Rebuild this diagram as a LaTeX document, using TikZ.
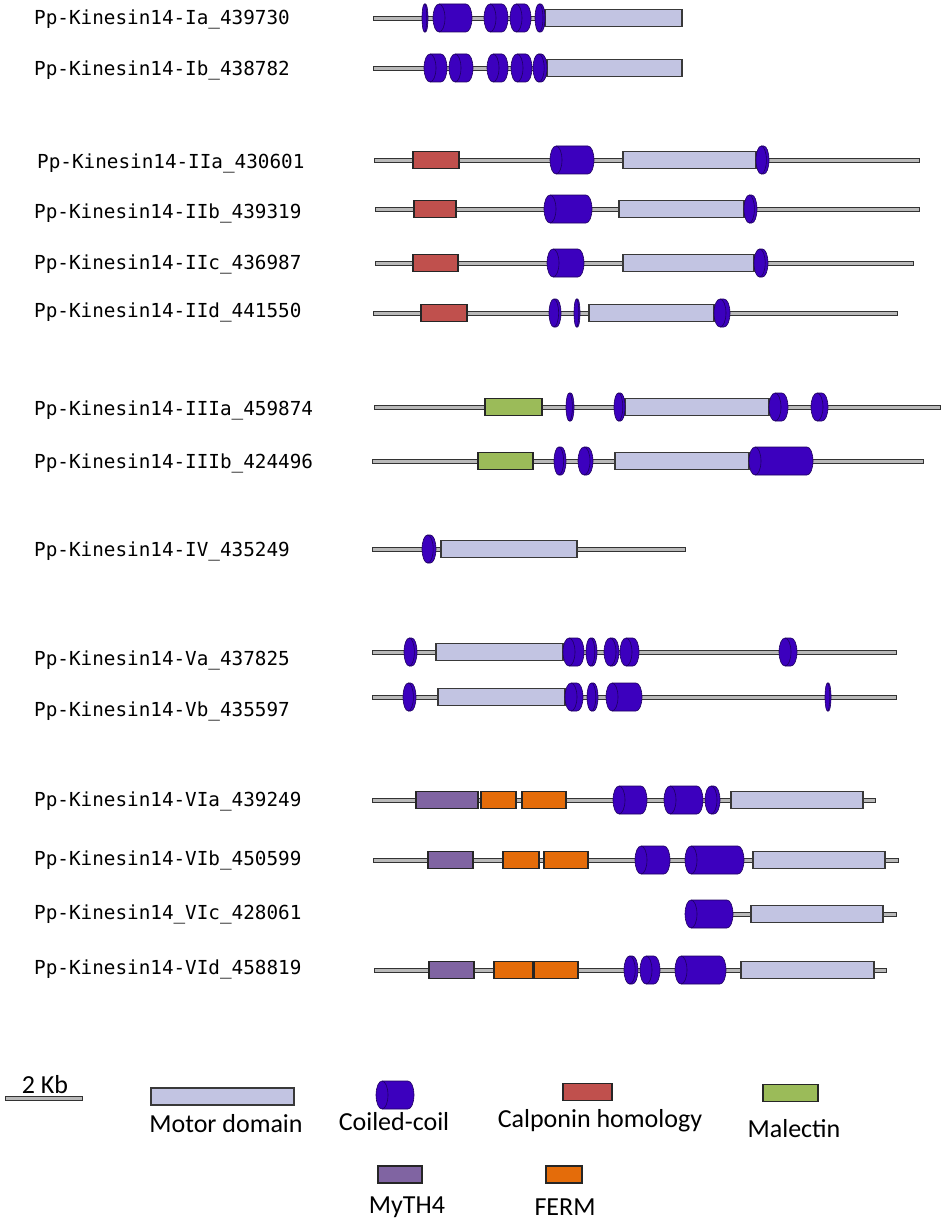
\documentclass[tikz,border=0pt]{standalone}
\usepackage{fontspec}
\setmainfont{Carlito}
\newfontfamily\labfont{DejaVu Sans Mono}
\usepackage{tikz}
\usetikzlibrary{calc}

\definecolor{motorc}{RGB}{194,196,226}
\definecolor{coilc}{RGB}{60,0,190}
\definecolor{calc}{RGB}{192,80,77}
\definecolor{malc}{RGB}{155,187,89}
\definecolor{mythc}{RGB}{128,100,162}
\definecolor{fermc}{RGB}{228,108,10}

\newcommand{\rod}[3]{\draw[rod] (#1,-#3+2) rectangle (#2,-#3-2);}
\newcommand{\dom}[4]{\draw[#4] (#1,-#3+8.5) rectangle (#2,-#3-8.5);}
\newcommand{\cc}[3]{%
  \pgfmathsetmacro{\ccr}{min(6,(#2-#1)/2.5)}%
  \draw[coil] ({#1+\ccr},-#3+14) -- ({#2-\ccr},-#3+14)
    arc[start angle=90,end angle=-90,x radius=\ccr pt,y radius=14pt]
    -- ({#1+\ccr},-#3-14)
    arc[start angle=270,end angle=90,x radius=\ccr pt,y radius=14pt] -- cycle;
  \draw[coil line] ({#1+\ccr},-#3+14)
    arc[start angle=90,end angle=-90,x radius=\ccr pt,y radius=14pt];}

\begin{document}
\begin{tikzpicture}[x=1pt,y=1pt,
  rod/.style={fill=gray!55, draw=gray!40!black, line width=0.9pt},
  motor/.style={fill=motorc, draw=gray!45!black, line width=1.1pt},
  calp/.style={fill=calc, draw=gray!30!black, line width=1.1pt},
  male/.style={fill=malc, draw=gray!30!black, line width=1.1pt},
  myth/.style={fill=mythc, draw=gray!30!black, line width=1.1pt},
  ferm/.style={fill=fermc, draw=gray!30!black, line width=1.1pt},
  coil/.style={fill=coilc, draw=coilc!50!black, line width=0.6pt},
  coil line/.style={draw=coilc!50!black, line width=0.6pt},
  lab/.style={anchor=west, font=\labfont\fontsize{19.3}{22}\selectfont, inner sep=0pt},
  leg/.style={font=\fontsize{26}{30}\selectfont, inner sep=0pt}]
\useasboundingbox (0,0) rectangle (945,-1225);

\node[lab] (Ia) at (34,-19) {Pp-Kinesin14-Ia\_439730};
\node[lab] (Ib) at (34,-70) {Pp-Kinesin14-Ib\_438782};
\node[lab] (IIa) at (37,-163) {Pp-Kinesin14-IIa\_430601};
\node[lab] (IIb) at (34,-213) {Pp-Kinesin14-IIb\_439319};
\node[lab] (IIc) at (34,-264) {Pp-Kinesin14-IIc\_436987};
\node[lab] (IId) at (34,-312) {Pp-Kinesin14-IId\_441550};
\node[lab] (IIIa) at (34,-410) {Pp-Kinesin14-IIIa\_459874};
\node[lab] (IIIb) at (34,-463) {Pp-Kinesin14-IIIb\_424496};
\node[lab] (IV) at (34,-551) {Pp-Kinesin14-IV\_435249};
\node[lab] (Va) at (34,-660) {Pp-Kinesin14-Va\_437825};
\node[lab] (Vb) at (34,-711) {Pp-Kinesin14-Vb\_435597};
\node[lab] (VIa) at (34,-801) {Pp-Kinesin14-VIa\_439249};
\node[lab] (VIb) at (34,-860) {Pp-Kinesin14-VIb\_450599};
\node[lab] (VIc) at (34,-914) {Pp-Kinesin14\_VIc\_428061};
\node[lab] (VId) at (34,-969) {Pp-Kinesin14-VId\_458819};

% Ia
\rod{373}{680}{18}
\dom{545}{682}{18}{motor}
\cc{422}{428}{18} \cc{433}{472}{18} \cc{484}{508}{18} \cc{510}{531}{18} \cc{535}{545}{18}
% Ib
\rod{373}{680}{68}
\dom{547}{682}{68}{motor}
\cc{424}{447}{68} \cc{449}{473}{68} \cc{487}{508}{68} \cc{511}{532}{68} \cc{533}{547}{68}

% IIa
\rod{374}{919}{160}
\dom{413}{459}{160}{calp}
\dom{623}{756}{160}{motor}
\cc{550}{594}{160} \cc{756}{769}{160}
% IIb
\rod{375}{919}{209}
\dom{414}{456}{209}{calp}
\dom{619}{744}{209}{motor}
\cc{544}{592}{209} \cc{744}{757}{209}
% IIc
\rod{375}{913}{263}
\dom{413}{458}{263}{calp}
\dom{623}{754}{263}{motor}
\cc{547}{584}{263} \cc{754}{768}{263}
% IId
\rod{373}{897}{313}
\dom{421}{467}{313}{calp}
\dom{589}{714}{313}{motor}
\cc{549}{561}{313} \cc{574}{580}{313} \cc{714}{730}{313}

% IIIa
\rod{374}{940}{407}
\dom{485}{542}{407}{male}
\dom{625}{769}{407}{motor}
\cc{566}{574}{407} \cc{614}{625}{407} \cc{769}{788}{407} \cc{811}{828}{407}
% IIIb
\rod{372}{923}{461}
\dom{478}{533}{461}{male}
\dom{615}{749}{461}{motor}
\cc{554}{566}{461} \cc{578}{593}{461} \cc{749}{813}{461}

% IV
\rod{372}{685}{549}
\dom{441}{577}{549}{motor}
\cc{422}{436}{549}

% Va
\rod{372}{896}{652}
\dom{436}{563}{652}{motor}
\cc{404}{417}{652} \cc{563}{584}{652} \cc{586}{597}{652} \cc{604}{619}{652}
\cc{620}{639}{652} \cc{779}{797}{652}
% Vb
\rod{372}{896}{697}
\dom{438}{565}{697}{motor}
\cc{403}{416}{697} \cc{565}{583}{697} \cc{587}{598}{697} \cc{606}{642}{697}
\cc{825}{831}{697}

% VIa
\rod{372}{875}{800}
\dom{416}{478}{800}{myth}
\dom{481}{516}{800}{ferm} \dom{522}{566}{800}{ferm}
\dom{731}{863}{800}{motor}
\cc{613}{647}{800} \cc{664}{703}{800} \cc{705}{720}{800}
% VIb
\rod{373}{898}{860}
\dom{428}{473}{860}{myth}
\dom{503}{539}{860}{ferm} \dom{544}{588}{860}{ferm}
\dom{753}{885}{860}{motor}
\cc{635}{670}{860} \cc{685}{744}{860}
% VIc
\rod{685}{896}{914}
\dom{751}{883}{914}{motor}
\cc{685}{733}{914}
% VId
\rod{374}{886}{970}
\dom{429}{474}{970}{myth}
\dom{494}{533}{970}{ferm} \dom{534}{578}{970}{ferm}
\dom{741}{874}{970}{motor}
\cc{624}{638}{970} \cc{640}{660}{970} \cc{675}{726}{970}

% legend
\coordinate (S1) at (5,-1098); \coordinate (S2) at (82,-1098);
\draw[rod] ($(S1)+(0,2)$) rectangle ($(S2)+(0,-2)$);
\node[leg] (kb) at (45,-1085) {2 Kb};
\dom{151}{294}{1096.5}{motor}
\node[leg] (tmot) at (226,-1124) {Motor domain};
\cc{376}{414}{1095}
\node[leg] (tcoil) at (394,-1122) {Coiled-coil};
\dom{563}{612}{1092}{calp}
\node[leg] (tcal) at (600,-1121) {Calponin homology};
\dom{763}{818}{1093}{male}
\node[leg] (tmal) at (794,-1129) {Malectin};
\dom{378}{422}{1174.5}{myth}
\node[leg] (tmyth) at (407,-1207) {MyTH4};
\dom{546}{582}{1174.5}{ferm}
\node[leg] (tferm) at (565,-1207) {FERM};
\end{tikzpicture}
\end{document}
